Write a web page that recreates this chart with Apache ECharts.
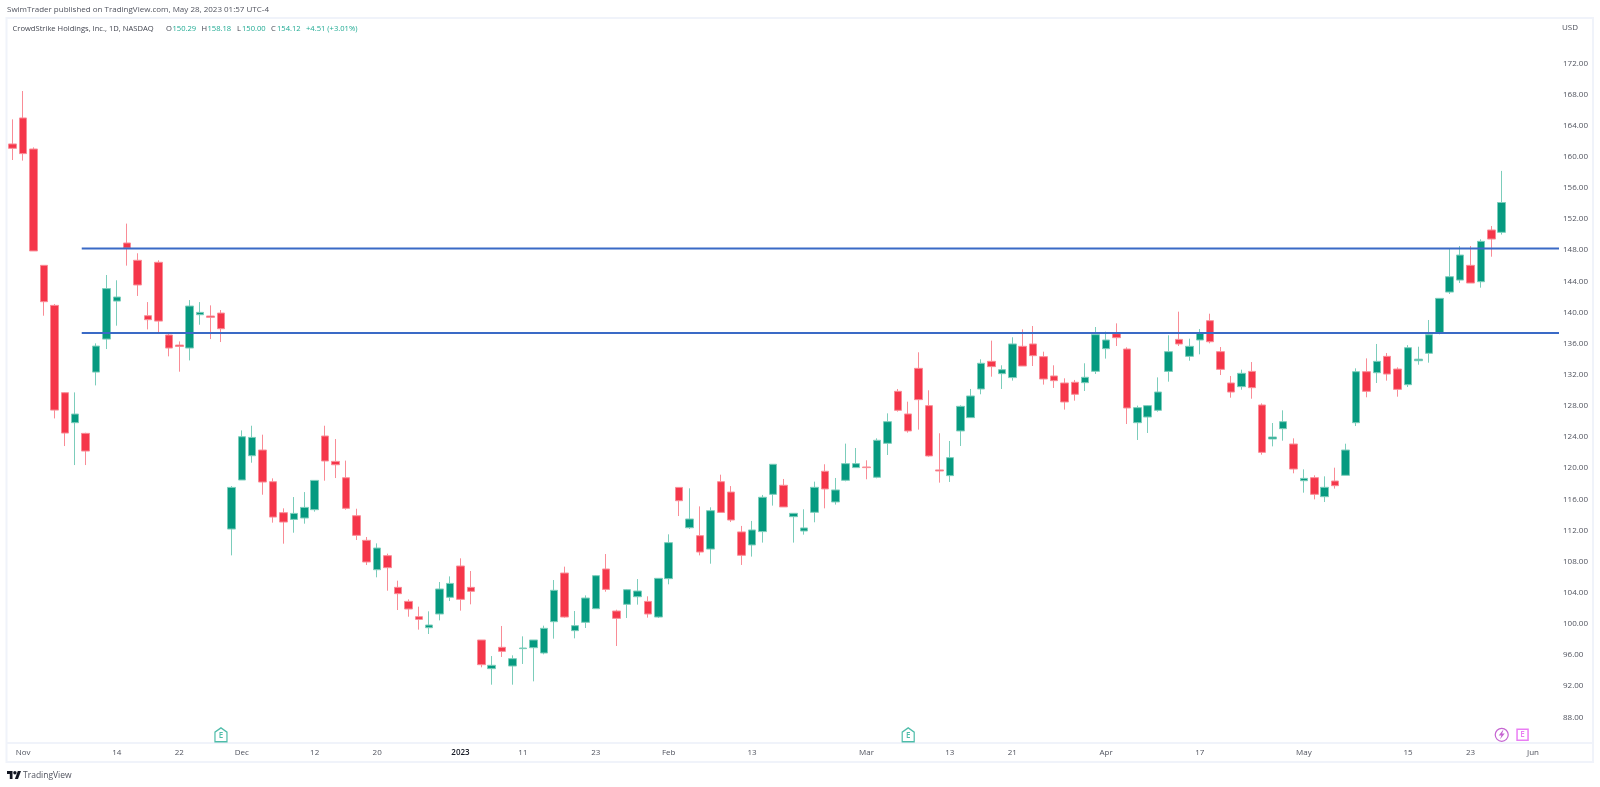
<!DOCTYPE html>
<html>
<head>
<meta charset="utf-8">
<title>CrowdStrike Holdings, Inc., 1D, NASDAQ</title>
<script src="https://cdn.jsdelivr.net/npm/echarts@6/dist/echarts.min.js"></script>
<style>
html, body { margin: 0; padding: 0; background: #fff; }
#main { width: 1600px; height: 787px; }
</style>
</head>
<body>
<div id="main"></div>
<script>
// trading days, the last ones are the empty space right of the last candle
var dates = ['2022-10-31',
    '2022-11-01','2022-11-02','2022-11-03','2022-11-04','2022-11-07','2022-11-08','2022-11-09','2022-11-10','2022-11-11','2022-11-14','2022-11-15','2022-11-16','2022-11-17','2022-11-18','2022-11-21','2022-11-22','2022-11-23','2022-11-25','2022-11-28','2022-11-29','2022-11-30',
    '2022-12-01','2022-12-02','2022-12-05','2022-12-06','2022-12-07','2022-12-08','2022-12-09','2022-12-12','2022-12-13','2022-12-14','2022-12-15','2022-12-16','2022-12-19','2022-12-20','2022-12-21','2022-12-22','2022-12-23','2022-12-27','2022-12-28','2022-12-29','2022-12-30',
    '2023-01-03','2023-01-04','2023-01-05','2023-01-06','2023-01-09','2023-01-10','2023-01-11','2023-01-12','2023-01-13','2023-01-17','2023-01-18','2023-01-19','2023-01-20','2023-01-23','2023-01-24','2023-01-25','2023-01-26','2023-01-27','2023-01-30','2023-01-31',
    '2023-02-01','2023-02-02','2023-02-03','2023-02-06','2023-02-07','2023-02-08','2023-02-09','2023-02-10','2023-02-13','2023-02-14','2023-02-15','2023-02-16','2023-02-17','2023-02-21','2023-02-22','2023-02-23','2023-02-24','2023-02-27','2023-02-28',
    '2023-03-01','2023-03-02','2023-03-03','2023-03-06','2023-03-07','2023-03-08','2023-03-09','2023-03-10','2023-03-13','2023-03-14','2023-03-15','2023-03-16','2023-03-17','2023-03-20','2023-03-21','2023-03-22','2023-03-23','2023-03-24','2023-03-27','2023-03-28','2023-03-29','2023-03-30','2023-03-31',
    '2023-04-03','2023-04-04','2023-04-05','2023-04-06','2023-04-10','2023-04-11','2023-04-12','2023-04-13','2023-04-14','2023-04-17','2023-04-18','2023-04-19','2023-04-20','2023-04-21','2023-04-24','2023-04-25','2023-04-26','2023-04-27','2023-04-28',
    '2023-05-01','2023-05-02','2023-05-03','2023-05-04','2023-05-05','2023-05-08','2023-05-09','2023-05-10','2023-05-11','2023-05-12','2023-05-15','2023-05-16','2023-05-17','2023-05-18','2023-05-19','2023-05-22','2023-05-23','2023-05-24','2023-05-25','2023-05-26','2023-05-30','2023-05-31',
    '2023-06-01','2023-06-02','2023-06-05'];

var opens = [161.64,164.98,160.99,146.05,140.91,129.69,125.84,124.47,132.34,136.58,
    141.46,148.92,146.7,139.58,146.44,137.1,135.81,135.43,139.71,139.54,
    139.92,112.18,118.48,121.6,122.33,118.26,114.28,113.42,113.6,114.67,
    124.13,120.87,118.77,113.89,110.73,106.96,108.76,104.69,102.89,100.92,
    99.51,101.27,103.41,107.43,104.69,97.93,94.25,96.99,94.59,96.82,
    96.94,96.26,100.28,106.53,99.13,100.2,101.95,107.05,101.65,102.51,
    103.49,102.89,100.88,105.81,117.53,112.35,111.33,109.61,118.26,116.93,
    111.81,110.14,111.85,116.64,117.8,113.77,111.93,114.33,119.6,115.66,
    118.44,120.07,120.15,118.83,123.19,129.87,126.96,132.82,128.03,119.77,
    119.04,124.78,126.49,130.17,133.72,132.14,131.63,135.65,135.95,134.32,
    131.84,130.94,131.03,130.98,132.44,135.35,137.27,135.3,125.84,126.57,
    127.43,132.43,136.54,134.36,136.46,138.94,134.96,130.94,130.47,132.43,
    128.11,123.75,125.07,123.1,118.39,118.78,116.34,118.35,119.08,125.84,
    132.39,132.26,134.36,132.73,130.72,133.8,134.75,137.36,142.62,144.16,
    146.05,143.95,150.59,150.29];
var closes = [161.08,160.4,147.9,141.38,127.46,124.51,126.95,122.2,135.68,143.06,
    141.98,148.28,143.53,139.07,138.89,135.43,135.64,140.82,140.01,139.37,
    137.91,117.53,124.04,123.95,118.22,113.72,113.08,114.19,114.96,118.43,
    120.92,120.44,114.84,111.37,107.95,109.74,107.22,103.88,101.91,100.58,
    99.85,104.48,105.2,103.15,104.18,94.76,94.68,96.47,95.53,96.9,
    97.93,99.43,104.31,100.88,99.77,103.32,106.19,104.43,100.71,104.39,
    104.22,101.27,105.85,110.43,115.82,113.47,109.23,114.54,114.32,113.34,
    108.81,112.06,116.26,120.5,115.02,114.2,112.32,117.54,117.33,117.2,
    120.58,120.58,120.07,123.58,125.97,127.43,124.78,128.8,121.57,119.64,
    121.35,127.94,129.27,133.47,133.04,132.65,135.95,133.12,134.45,131.45,
    131.24,128.5,129.49,131.67,137.15,136.46,136.76,127.73,127.77,128.03,
    129.78,134.96,135.95,135.65,137.4,136.24,132.69,129.78,132.18,130.34,
    122.03,124.0,125.97,119.89,118.69,116.64,117.54,117.75,122.33,132.39,
    129.87,133.72,132.09,130.12,135.47,134.0,137.14,141.81,144.59,147.37,
    143.78,149.13,149.43,154.12];
var lows = [159.58,159.5,147.9,139.58,126.39,122.84,120.4,120.4,130.63,135.3,
    138.3,146.01,142.12,137.82,137.23,134.36,132.39,133.84,138.42,136.58,
    136.2,108.8,118.48,120.7,116.59,113.0,110.3,111.71,112.87,114.41,
    118.39,118.73,114.67,110.77,107.56,105.98,104.26,101.78,100.92,99.26,
    98.7,100.45,102.94,101.7,102.51,94.42,92.19,95.75,92.19,94.85,
    92.62,96.09,98.1,100.8,98.14,99.47,101.91,104.13,97.16,100.75,
    102.47,100.8,100.75,105.08,113.85,112.18,108.8,107.73,114.32,113.08,
    107.57,108.64,110.44,115.19,115.02,110.44,111.46,113.05,114.84,115.32,
    118.31,120.07,118.57,118.7,121.69,127.26,124.56,124.95,121.48,118.14,
    118.23,122.85,126.49,129.49,131.75,130.17,131.24,133.12,133.12,130.73,
    130.3,127.52,128.67,129.91,132.1,134.07,135.69,125.67,123.62,124.52,
    127.25,131.11,135.69,133.8,134.62,136.03,131.96,129.05,130.08,128.92,
    121.73,122.8,123.53,119.34,116.85,115.99,115.65,117.37,119.08,125.41,
    129.1,130.94,131.24,129.18,130.42,133.29,133.55,137.19,142.37,143.78,
    143.78,143.18,147.16,150.0];
var highs = [164.8,168.44,161.2,146.05,141.08,129.75,129.73,124.55,136.03,144.81,
    144.13,151.41,147.6,141.33,146.7,137.23,136.28,141.59,141.33,140.91,
    140.31,117.7,124.85,125.45,124.3,118.69,114.84,116.29,116.93,118.47,
    125.45,123.74,120.97,114.79,111.16,110.34,109.02,105.55,103.15,102.21,
    101.61,105.38,106.1,108.42,106.79,97.93,95.87,99.73,95.96,98.4,
    97.93,99.77,105.63,107.35,101.65,103.66,106.28,108.97,101.82,104.48,
    105.76,103.54,105.85,111.5,117.53,117.41,115.09,114.97,119.16,117.7,
    112.58,113.22,116.56,120.5,118.61,114.2,114.72,118.27,120.5,118.74,
    123.15,122.59,121.01,123.83,127.04,130.17,128.54,134.88,130.0,124.48,
    123.49,128.07,130.17,133.98,136.38,133.21,136.81,137.83,138.26,134.96,
    133.21,131.54,131.33,133.47,138.13,137.53,138.6,135.52,128.03,128.11,
    131.66,137.06,140.1,136.63,137.87,139.84,135.56,131.84,132.65,133.63,
    128.32,125.8,127.43,123.83,119.85,119.08,118.95,120.06,123.14,132.82,
    134.1,135.95,134.79,132.95,135.8,135.6,139.03,141.81,148.19,148.53,
    148.53,149.39,151.1,158.18];

var priceTicks = [88,92,96,100,104,108,112,116,120,124,128,132,136,140,144,148,152,156,160,164,168,172];
var tickDates = ['2022-11-01','2022-11-14','2022-11-22','2022-12-01','2022-12-12','2022-12-20','2023-01-03','2023-01-11','2023-01-23','2023-02-01','2023-02-13','2023-03-01','2023-03-13','2023-03-21','2023-04-03','2023-04-17','2023-05-01','2023-05-15','2023-05-23','2023-06-01'];
var tickLabels = ['Nov','14','22','Dec','12','20','2023','11','23','Feb','13','Mar','13','21','Apr','17','May','15','23','Jun'];

// the two drawn levels, x in bar index
var levelPrices = [148.2, 137.36];
var levelStart = 6.63;
var levelEnd = 148.5;

var earningsDates = ['2022-11-29', '2023-03-07'];
var nextEarningsDate = '2023-05-31';
var dividendDate = '2023-05-26';
var markerPrice = 85.75;

var FONT = '"Open Sans", sans-serif';
var GREEN = '#069a80', GREEN_WICK = '#7ccdbb';
var RED = '#f5364a', RED_WICK = '#f98c96';
var TEXT_GREEN = '#22ab94';

var candles = opens.map(function (o, i) {
    return [o, closes[i], lows[i], highs[i]];
});

var levelSeries = levelPrices.map(function (p) {
    return {
        type: 'line',
        xAxisIndex: 1,
        symbol: 'none',
        silent: true,
        z: 4,
        lineStyle: { color: '#3a6ac6', width: 2 },
        data: [[levelStart, p], [levelEnd, p]]
    };
});

// small helper for the text above the chart
function label(x, y, text, fill, size) {
    return {
        type: 'text', x: x, y: y, silent: true,
        style: { text: text, fill: fill, font: size + 'px ' + FONT, verticalAlign: 'middle' }
    };
}

var myChart = echarts.init(document.getElementById('main'));
var option = {
    backgroundColor: '#fff',
    animation: false,
    textStyle: { fontFamily: FONT },
    grid: { left: 7.5, right: 41, top: 19, bottom: 44 },
    xAxis: [{
        type: 'category',
        data: dates,
        boundaryGap: true,
        axisLine: { show: false },
        axisTick: { show: false },
        splitLine: { show: false },
        axisLabel: {
            margin: 6,
            fontSize: 8,
            color: '#50535e',
            fontFamily: FONT,
            hideOverlap: false,
            interval: function (i, v) { return tickDates.indexOf(v) >= 0; },
            formatter: function (v) {
                var text = tickLabels[tickDates.indexOf(v)];
                return text === '2023' ? '{year|2023}' : text;
            },
            rich: { year: { fontSize: 8, color: '#131722', fontFamily: FONT, fontWeight: 600 } }
        }
    }, {
        type: 'value',
        show: false,
        min: -0.5,
        max: 148.5
    }],
    yAxis: {
        type: 'value',
        position: 'right',
        scale: true,
        min: 84.7,
        max: 177.69,
        axisLine: { show: false },
        axisTick: { show: false },
        splitLine: { show: false },
        axisLabel: {
            margin: 4,
            fontSize: 8,
            color: '#50535e',
            fontFamily: FONT,
            customValues: priceTicks,
            formatter: function (v) { return v.toFixed(2); }
        }
    },
    series: [{
        type: 'candlestick',
        barWidth: 8,
        data: candles,
        itemStyle: {
            color: GREEN,
            color0: RED,
            borderColor: GREEN_WICK,
            borderColor0: RED_WICK,
            borderWidth: 1
        }
    }].concat(levelSeries).concat([{
        type: 'scatter',
        symbol: 'path://M0 5 L7 0 L14 5 L14 16 L0 16 Z',
        symbolSize: [12, 14],
        z: 5,
        itemStyle: { color: '#fff', borderColor: TEXT_GREEN, borderWidth: 1.3 },
        label: { show: true, position: 'inside', formatter: 'E', fontSize: 8, fontWeight: 600, color: TEXT_GREEN, fontFamily: FONT, offset: [0, 1] },
        data: earningsDates.map(function (d) { return [d, markerPrice]; })
    }, {
        type: 'scatter',
        symbol: 'rect',
        symbolSize: 11,
        z: 5,
        itemStyle: { color: '#fff', borderColor: '#e45cf0', borderWidth: 1.5 },
        label: { show: true, position: 'inside', formatter: 'E', fontSize: 8, fontWeight: 600, color: '#e45cf0', fontFamily: FONT },
        data: [[nextEarningsDate, markerPrice]]
    }, {
        type: 'scatter',
        symbol: 'circle',
        symbolSize: 13,
        z: 5,
        itemStyle: { color: '#fff', borderColor: '#b73dc6', borderWidth: 1.2 },
        data: [[dividendDate, markerPrice]]
    }, {
        type: 'scatter',
        symbol: 'path://M6 0 L0 8 L4 8 L2 14 L9 5 L5 5 L7 0 Z',
        symbolSize: [6, 9],
        z: 6,
        itemStyle: { color: '#b73dc6' },
        data: [[dividendDate, markerPrice]]
    }]),
    graphic: [
        // frame of the chart and the line over the time scale
        { type: 'rect', silent: true, shape: { x: 6.5, y: 18, width: 1586.5, height: 744 }, style: { fill: 'none', stroke: '#f0f3fa', lineWidth: 2 } },
        { type: 'line', silent: true, shape: { x1: 6.5, y1: 743, x2: 1593, y2: 743 }, style: { stroke: '#f0f3fa', lineWidth: 2 } },
        label(7, 10, 'SwimTrader published on TradingView.com, May 28, 2023 01:57 UTC-4', '#50535e', 8),
        label(12.5, 28.5, 'CrowdStrike Holdings, Inc., 1D, NASDAQ', '#434651', 7.6),
        label(166, 28.5, 'O', '#434651', 7.6),
        label(172.5, 28.5, '150.29', TEXT_GREEN, 7.6),
        label(201.5, 28.5, 'H', '#434651', 7.6),
        label(207.5, 28.5, '158.18', TEXT_GREEN, 7.6),
        label(237, 28.5, 'L', '#434651', 7.6),
        label(242, 28.5, '150.00', TEXT_GREEN, 7.6),
        label(271, 28.5, 'C', '#434651', 7.6),
        label(277, 28.5, '154.12', TEXT_GREEN, 7.6),
        label(306, 28.5, '+4.51 (+3.01%)', TEXT_GREEN, 7.6),
        label(1562, 27.5, 'USD', '#50535e', 8),
        // TradingView logo
        { type: 'polygon', silent: true, shape: { points: [[7, 771], [12.5, 771], [12.5, 779], [9.8, 779], [9.8, 774.1], [7, 774.1]] }, style: { fill: '#131722' } },
        { type: 'polygon', silent: true, shape: { points: [[14.9, 779], [17.8, 771], [21, 771], [18, 779]] }, style: { fill: '#131722' } },
        { type: 'circle', silent: true, shape: { cx: 14.9, cy: 772.8, r: 1.7 }, style: { fill: '#131722' } },
        label(23, 775.5, 'TradingView', '#50535e', 8.5)
    ]
};
myChart.setOption(option);
</script>
</body>
</html>
